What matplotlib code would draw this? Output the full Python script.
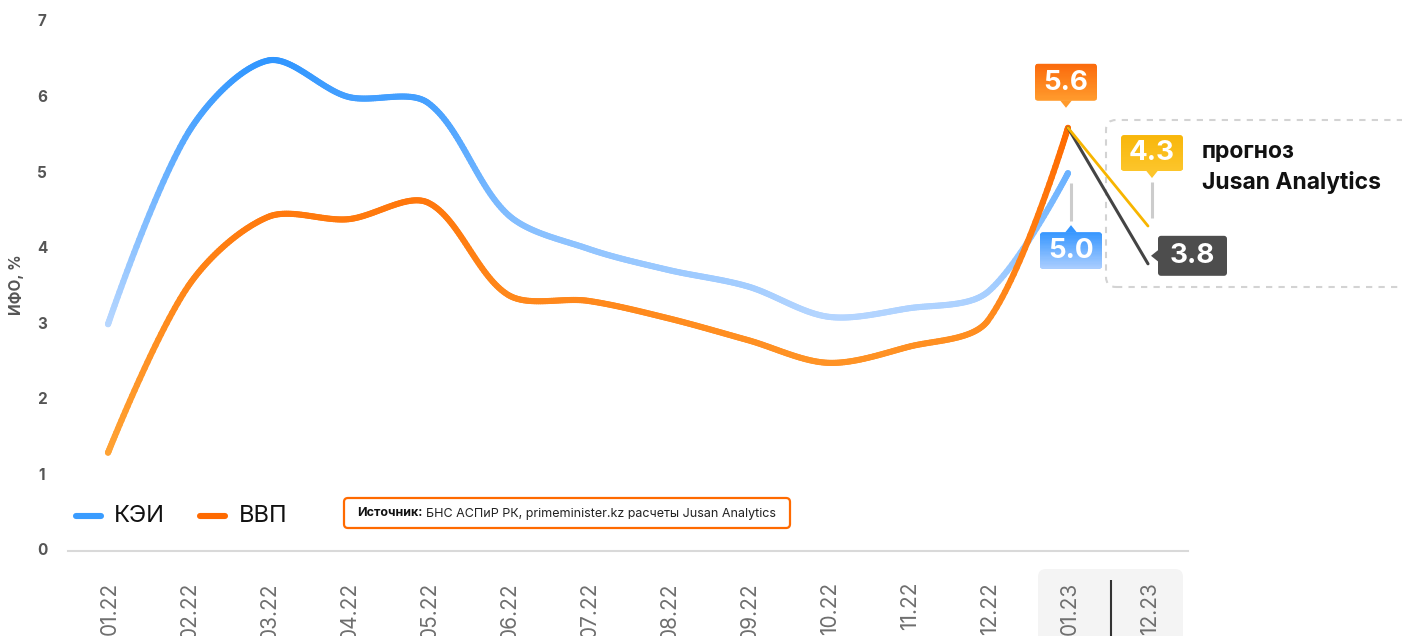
import numpy as np
import matplotlib.pyplot as plt
import matplotlib.colors as mcolors
from matplotlib.patches import FancyBboxPatch, Rectangle, Polygon
from matplotlib.collections import LineCollection
from matplotlib.transforms import IdentityTransform

plt.rcParams['font.family'] = ['Inter', 'DejaVu Sans']

months = ['01.22', '02.22', '03.22', '04.22', '05.22', '06.22', '07.22',
          '08.22', '09.22', '10.22', '11.22', '12.22', '01.23', '12.23']
kei = [3.0, 5.53, 6.49, 6.01, 5.93, 4.45, 4.0, 3.72, 3.5, 3.1, 3.21, 3.43, 5.0]
vvp = [1.3, 3.5, 4.42, 4.39, 4.61, 3.39, 3.31, 3.08, 2.79, 2.49, 2.7, 3.05, 5.6]
fc_x = [12, 13]
fc_yellow = [5.6, 4.3]
fc_gray = [5.6, 3.8]
yticks = [0, 1, 2, 3, 4, 5, 6, 7]

W, H = 1402, 636
fig = plt.figure(figsize=(W / 100, H / 100), dpi=100)
ax = fig.add_axes([0, 0, 1, 1])
ax.set_xlim(-1.35, 16.175)
ax.set_ylim(-1.125, 7.291)
ax.axis('off')
ID = IdentityTransform()


def to_px(x, y):
    d = ax.transData.transform((x, y))
    return d[0], H - d[1]


def mix(c1, c2, t):
    a = np.array(mcolors.to_rgb(c1))
    b = np.array(mcolors.to_rgb(c2))
    return tuple(a + (b - a) * t)


def smooth_curve(xs, ys, s=0.32, n=40):
    # bezier smoothing, control points computed in pixel space
    sx, sy = ax.transData.transform((1, 1)) - ax.transData.transform((0, 0))
    P = np.column_stack([xs, ys]).astype(float)
    k = len(P)
    cl, cr = P.copy(), P.copy()
    for i in range(1, k - 1):
        v = P[i + 1] - P[i - 1]
        d0 = np.hypot((P[i, 0] - P[i - 1, 0]) * sx, (P[i, 1] - P[i - 1, 1]) * sy)
        d1 = np.hypot((P[i + 1, 0] - P[i, 0]) * sx, (P[i + 1, 1] - P[i, 1]) * sy)
        cl[i] = P[i] - v * s * d0 / (d0 + d1)
        cr[i] = P[i] + v * s * d1 / (d0 + d1)
    t = np.linspace(0, 1, n)[:, None]
    out = []
    for i in range(k - 1):
        b = ((1 - t) ** 3 * P[i] + 3 * (1 - t) ** 2 * t * cr[i]
             + 3 * (1 - t) * t ** 2 * cl[i + 1] + t ** 3 * P[i + 1])
        out.append(b if i == 0 else b[1:])
    return np.vstack(out)


def grad_line(xs, ys, c_low, c_high, lo, hi, z):
    pts = smooth_curve(xs, ys)
    segs = np.stack([pts[:-1], pts[1:]], axis=1)
    mid = (pts[:-1, 1] + pts[1:, 1]) / 2
    cols = [mix(c_low, c_high, np.clip((m - lo) / (hi - lo), 0, 1)) for m in mid]
    lc = LineCollection(segs, colors=cols, linewidths=4.4, capstyle='round',
                        joinstyle='round', zorder=z)
    ax.add_collection(lc)


def box(x0, y0, w, h, c_top, c_bot, r=3, z=6, fill=None, ec='none', lw=0, ls='-'):
    clip = FancyBboxPatch((x0, H - y0 - h), w, h,
                          boxstyle=f'round,pad=0,rounding_size={r}',
                          transform=ID, facecolor=fill if fill else 'none',
                          edgecolor=ec, linewidth=lw, linestyle=ls, zorder=z, clip_on=False)
    ax.add_patch(clip)
    if c_top is not None:
        n = 30
        for k in range(n):
            rect = Rectangle((x0, H - y0 - (k + 1) * h / n), w, h / n + 0.6,
                             transform=ID, facecolor=mix(c_top, c_bot, k / (n - 1)),
                             edgecolor='none', zorder=z + 0.1)
            ax.add_patch(rect)
            rect.set_clip_path(clip)
    return clip


def tri(pts, color, z=6):
    ax.add_patch(Polygon([(x, H - y) for x, y in pts], closed=True, transform=ID,
                         facecolor=color, edgecolor='none', zorder=z, clip_on=False))


def vline_px(x, y0, y1, color, lw, z=4):
    ax.plot([x, x], [H - y0, H - y1], color=color, lw=lw, transform=ID,
            zorder=z, solid_capstyle='butt', clip_on=False)


def ptext(x, y, s, **kw):
    return ax.text(x, H - y, s, transform=ID, **kw)


# bottom background for forecast ticks
box(1038, 569, 145, 90, None, None, r=8, z=0, fill='#f4f4f4')
vline_px(1111, 580, 640, '#333333', 1.5, z=1)

# axis line
ax.plot([-0.5, 13.5], [0, 0], color='#d9d9d9', lw=1.5, zorder=1)

# y ticks
for v in yticks:
    ax.text(-0.825, v, str(v), ha='center', va='center', fontsize=11,
            fontweight='bold', color='#555555')
ptext(16, 285, 'ИФО, %', rotation=90, ha='center', va='center', fontsize=11,
      fontweight='bold', color='#555555')

# x tick labels
ylab = ax.transData.inverted().transform((0, H - 582))[1]
for i, m in enumerate(months):
    ax.text(i + 0.02, ylab, m, rotation=90, ha='center', va='top', fontsize=15,
            color='#6e6e6e')

# main lines
idx = list(range(len(kei)))
grad_line(idx, kei, '#b8d7ff', '#3096ff', 3.0, 6.5, 3)
grad_line(idx, vvp, '#ffa334', '#ff6a00', 1.3, 5.6, 4)

# forecast lines
ax.plot(fc_x, fc_gray, color='#444444', lw=2.2, zorder=5, solid_capstyle='round')
ax.plot(fc_x, fc_yellow, color='#f7b500', lw=2.0, zorder=5, solid_capstyle='round')

# forecast dashed frame
box(1106, 120, 330, 167, None, None, r=10, z=0, ec='#d3d3d3', lw=1.5, ls=(0, (3, 3)))
ptext(1202, 152, 'прогноз', ha='left', va='center', fontsize=16.5,
      fontweight='bold', color='#111111')
ptext(1202, 183, 'Jusan Analytics', ha='left', va='center', fontsize=16.5,
      fontweight='bold', color='#111111')

# callouts
lab_kw = dict(ha='center', va='center', fontsize=20, fontweight='bold',
              color='white', zorder=8)

px, py = to_px(12, vvp[-1])
cx = px - 2
box(cx - 31, py - 64, 62, 37, '#fb6a0c', '#ff9a2c')
tri([(cx - 6, py - 27.5), (cx + 6, py - 27.5), (cx, py - 20)], '#ff9a2c')
ptext(cx, py - 45, f'{vvp[-1]:.1f}', **lab_kw)

px, py = to_px(12, kei[-1])
cx = px + 3
vline_px(cx, py + 10, py + 48, '#cccccc', 2.2)
box(cx - 31, py + 59, 62, 37, '#3596ff', '#a9cdff')
tri([(cx - 6, py + 59.5), (cx + 6, py + 59.5), (cx, py + 52)], '#3596ff')
ptext(cx, py + 78, f'{kei[-1]:.1f}', **lab_kw)

px, py = to_px(fc_x[1], fc_yellow[1])
cx = px + 4
vline_px(cx, py - 44, py - 8, '#cccccc', 2.2)
box(cx - 31, py - 91, 62, 36, '#f8b60a', '#fcc52a')
tri([(cx - 6, py - 55.5), (cx + 6, py - 55.5), (cx, py - 48)], '#fcc52a')
ptext(cx, py - 73, f'{fc_yellow[1]:.1f}', **lab_kw)

px, py = to_px(fc_x[1], fc_gray[1])
box(px + 10, py - 28, 69, 40, '#4d4d4d', '#4d4d4d')
tri([(px + 10.5, py - 14), (px + 10.5, py - 2), (px + 3, py - 8)], '#4d4d4d')
ptext(px + 44.5, py - 8, f'{fc_gray[1]:.1f}', **lab_kw)

# legend
ax.plot([76, 101], [H - 516, H - 516], color='#3a9cff', lw=4.4, transform=ID,
        solid_capstyle='round')
ptext(114, 516, 'КЭИ', ha='left', va='center', fontsize=17, color='#111111')
ax.plot([200, 225], [H - 516, H - 516], color='#ff6a00', lw=4.4, transform=ID,
        solid_capstyle='round')
ptext(239, 516, 'ВВП', ha='left', va='center', fontsize=17, color='#111111')

# source box
box(344, 498, 446, 30, None, None, r=4, z=2, fill='white', ec='#ff6a00', lw=1.6)
t1 = ptext(357, 513.5, 'Источник:', ha='left', va='center', fontsize=9,
           fontweight='bold', color='#111111', zorder=3)
fig.canvas.draw()
bb = t1.get_window_extent()
ax.text(bb.x1 + 4, H - 513.5, 'БНС АСПиР РК, primeminister.kz расчеты Jusan Analytics',
        transform=ID, ha='left', va='center', fontsize=9, color='#222222', zorder=3)

fig.savefig('out.png', dpi=100)
